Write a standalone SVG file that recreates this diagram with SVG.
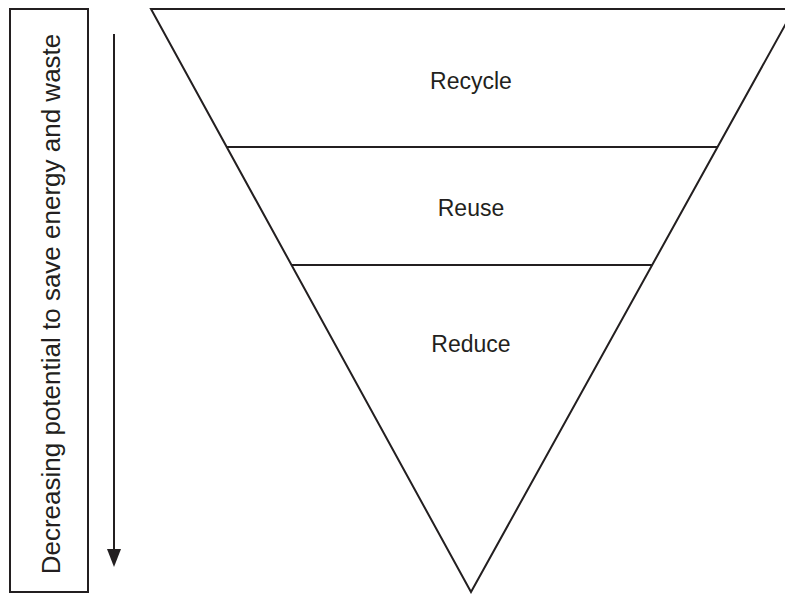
<svg xmlns="http://www.w3.org/2000/svg" width="785" height="594" viewBox="0 0 785 594">
<style>
.ln{stroke:#231f20;stroke-width:2;fill:none}
.lbl{font-family:"Liberation Sans",Arial,sans-serif;font-size:23px;fill:#231f20;text-anchor:middle}
</style>
<defs>
<marker id="ah" markerWidth="14" markerHeight="18" refX="7" refY="17" orient="auto-start-reverse" markerUnits="userSpaceOnUse" viewBox="0 0 14 18">
<path d="M0,0 L14,0 L7,18 Z" fill="#231f20"/>
</marker>
</defs>
<rect width="785" height="594" fill="#fff"/>
<g id="pyramid">
<polygon class="ln" points="151,9 794,9 471,592"/>
</g>
<g id="recycle">
<text class="lbl" x="471" y="89">Recycle</text>
</g>
<g id="reuse">
<line class="ln" x1="227" y1="147" x2="718" y2="147"/>
<text class="lbl" x="471" y="216">Reuse</text>
</g>
<g id="reduce">
<line class="ln" x1="291.5" y1="265" x2="652" y2="265"/>
<text class="lbl" x="471" y="352">Reduce</text>
</g>
<g id="sidebar">
<rect class="ln" x="10" y="9" width="78" height="583"/>
<text font-family="Liberation Sans,Arial,sans-serif" font-size="26" fill="#231f20" text-anchor="middle" transform="translate(60,304) rotate(-90)">Decreasing potential to save energy and waste</text>
</g>
<g id="connectors">
<line class="ln" x1="114" y1="34" x2="114" y2="550" />
<path d="M107,549 L121,549 L114,567 Z" fill="#231f20"/>
</g>
</svg>
